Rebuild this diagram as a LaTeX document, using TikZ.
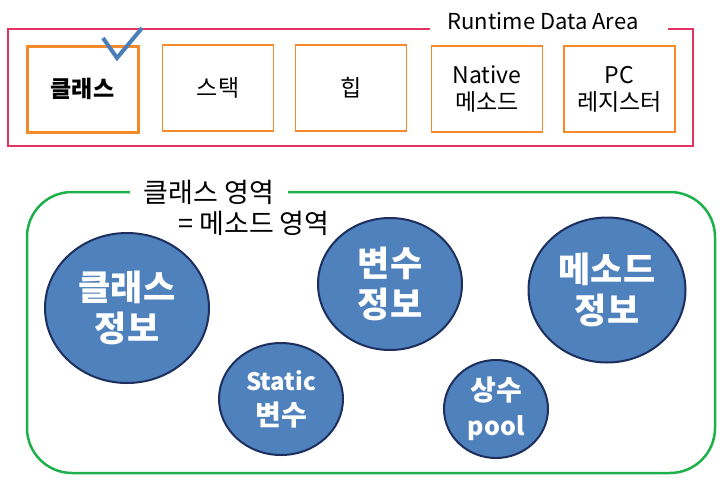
\documentclass[tikz,border=0pt]{standalone}
\usepackage{fontspec}
\setmainfont{Noto Sans CJK KR}
\usetikzlibrary{shapes.geometric}
\definecolor{pinkline}{HTML}{E2345E}
\definecolor{orangeline}{HTML}{F58A2A}
\definecolor{greenline}{HTML}{1DB04B}
\definecolor{bluefill}{HTML}{4F81BD}
\definecolor{blueedge}{HTML}{1C2F5E}
\definecolor{checkblue}{HTML}{4A7EBB}
\begin{document}
\begin{tikzpicture}[x=1pt,y=-1pt,
  membox/.style={draw=orangeline, line width=1.5pt, minimum width=111pt, minimum height=86pt, align=center, inner sep=0pt, font=\fontsize{23}{27}\selectfont},
  bigcirc/.style={ellipse, draw=blueedge, line width=2pt, fill=bluefill, text=white, align=center, inner sep=0pt, font=\bfseries\fontsize{35}{41}\selectfont},
  smallcirc/.style={ellipse, draw=blueedge, line width=2pt, fill=bluefill, text=white, align=center, inner sep=0pt, font=\bfseries\fontsize{28}{35}\selectfont},
  titletext/.style={fill=white, inner sep=0pt, font=\fontsize{22}{26}\selectfont}
]
\useasboundingbox (0,0) rectangle (726,485);
% Runtime Data Area frame
\node[draw=pinkline, line width=1.5pt, minimum width=685pt, minimum height=117pt, inner sep=0pt] (rda) at (350.5,87.5) {};
\node[fill=white, inner sep=0pt, minimum width=238pt, minimum height=24pt] (rdagap) at (549,21) {};
\node[inner sep=0pt, font=\fontsize{22}{26}\selectfont] (rdatitle) at (543,21) {Runtime Data Area};
% memory boxes
\node[membox, line width=3pt, font=\bfseries\fontsize{23}{27}\selectfont] (cls) at (82.5,89) {클래스};
\node[membox] (stack) at (218,88) {스택};
\node[membox] (heap) at (351,88) {힙};
\node[membox] (native) at (487,89) {Native\\메소드};
\node[membox] (pc) at (619.5,89) {PC\\레지스터};
% check mark
\coordinate (c1) at (103,38);
\coordinate (c2) at (117,58);
\coordinate (c3) at (142,28);
\draw[checkblue, line width=4pt] (c1) -- (c2) -- (c3);
% class area frame
\node[draw=greenline, line width=2.5pt, rounded corners=45pt, minimum width=688pt, minimum height=281pt, inner sep=0pt] (area) at (371,332.5) {};
\node[titletext, minimum width=158pt, minimum height=28pt, font=\fontsize{27}{30}\selectfont] (areatitle) at (209,192) {클래스 영역};
\node[inner sep=0pt, font=\fontsize{27}{30}\selectfont] (areatitle2) at (254,223) {= 메소드 영역};
% circles
\node[bigcirc, minimum width=164pt, minimum height=150pt] (clsinfo) at (127,308) {클래스\\정보};
\node[bigcirc, minimum width=144pt, minimum height=132pt] (varinfo) at (390,284) {변수\\정보};
\node[bigcirc, minimum width=157pt, minimum height=145pt] (methinfo) at (607,290) {메소드\\정보};
\node[smallcirc, minimum width=124pt, minimum height=112pt] (staticvar) at (281,399) {{\fontsize{24}{35}\selectfont Static}\\변수};
\node[smallcirc, minimum width=104pt, minimum height=98pt] (constpool) at (496,409) {상수\\{\fontsize{25}{35}\selectfont pool}};
\end{tikzpicture}
\end{document}
